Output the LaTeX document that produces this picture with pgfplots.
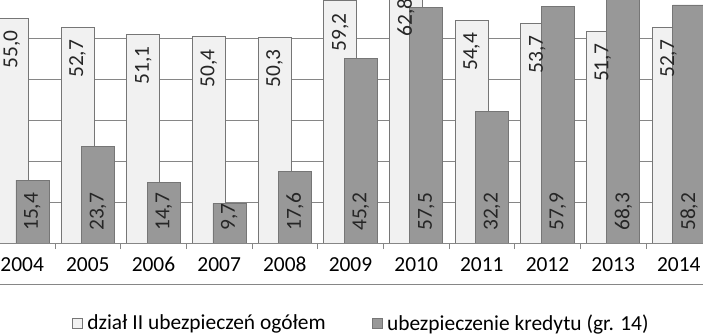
\documentclass[border=0pt]{standalone}
\usepackage{pgfplots}
\pgfplotsset{compat=1.18}
\usepackage{fontspec}
\setmainfont{Carlito}
\definecolor{lightbar}{RGB}{241,241,241}
\definecolor{darkbar}{RGB}{152,152,152}
\definecolor{barline}{RGB}{118,118,118}
\definecolor{gridc}{RGB}{134,134,134}
\begin{document}
\begin{tikzpicture}[font=\fontsize{21.5}{25}\selectfont]
\useasboundingbox (0,0) rectangle (703bp,335bp);
\clip (0,0) rectangle (703bp,335bp);
\begin{axis}[
  at={(-10.67bp,92bp)}, anchor=south west,
  scale only axis, width=722.3bp, height=286.3bp,
  xmin=-0.5, xmax=10.5, ymin=0, ymax=70,
  ybar, bar width=33bp,
  axis line style={draw=none},
  xtick={0,1,2,3,4,5,6,7,8,9,10},
  xticklabels={2004,2005,2006,2007,2008,2009,2010,2011,2012,2013,2014},
  minor xtick={0.5,1.5,2.5,3.5,4.5,5.5,6.5,7.5,8.5,9.5},
  xtick pos=bottom, tick align=outside,
  major x tick style={draw=none},
  minor x tick style={gridc, line width=0.8bp},
  minor tick length=6bp,
  ytick={0,10,20,30,40,50,60,70}, yticklabels={},
  major y tick style={draw=none},
  ymajorgrids, grid style={gridc, line width=0.8bp},
  xticklabel style={anchor=north, text height=15bp, text depth=0bp, yshift=-6bp},
  /pgf/number format/.cd, fixed, fixed zerofill, precision=1, use comma, assume math mode=true,
  /pgfplots/.cd,
  legend columns=2,
  legend style={draw=none, fill=none, at={(0.515,-0.28)}, anchor=center,
    /tikz/every even column/.append style={column sep=44bp}},
  legend image code/.code={\draw[#1, line width=0.7bp] (0bp,-5bp) rectangle (10bp,5bp); \path[draw=none, fill=none] (10bp,0bp) -- (13bp,0bp);},
]
\addplot[fill=lightbar, draw=barline, line width=0.8bp, bar shift=-10.25bp,
  nodes near coords,
  every node near coord/.append style={rotate=90, anchor=east, inner xsep=12bp, text=black!85}]
  coordinates {(0,55.0) (1,52.7) (2,51.1) (3,50.4) (4,50.3) (5,59.2) (6,62.8) (7,54.4) (8,53.7) (9,51.7) (10,52.7)};
\addlegendentry{dział II ubezpieczeń ogółem}
\addplot[fill=darkbar, draw=barline, line width=0.8bp, bar shift=10.25bp]
  coordinates {(0,15.4) (1,23.7) (2,14.7) (3,9.7) (4,17.6) (5,45.2) (6,57.5) (7,32.2) (8,57.9) (9,68.3) (10,58.2)};
\addlegendentry{ubezpieczenie kredytu (gr. 14)}
\addplot[draw=none, fill=none, bar shift=10.25bp, forget plot,
  point meta=explicit, nodes near coords,
  every node near coord/.append style={rotate=90, anchor=west, inner xsep=12bp, text=black!85}]
  coordinates {(0,0) [15.4] (1,0) [23.7] (2,0) [14.7] (3,0) [9.7] (4,0) [17.6] (5,0) [45.2] (6,0) [57.5] (7,0) [32.2] (8,0) [57.9] (9,0) [68.3] (10,0) [58.2]};
\end{axis}
\draw[gridc, line width=0.8bp] (0,51bp) -- (703bp,51bp);
\end{tikzpicture}
\end{document}
